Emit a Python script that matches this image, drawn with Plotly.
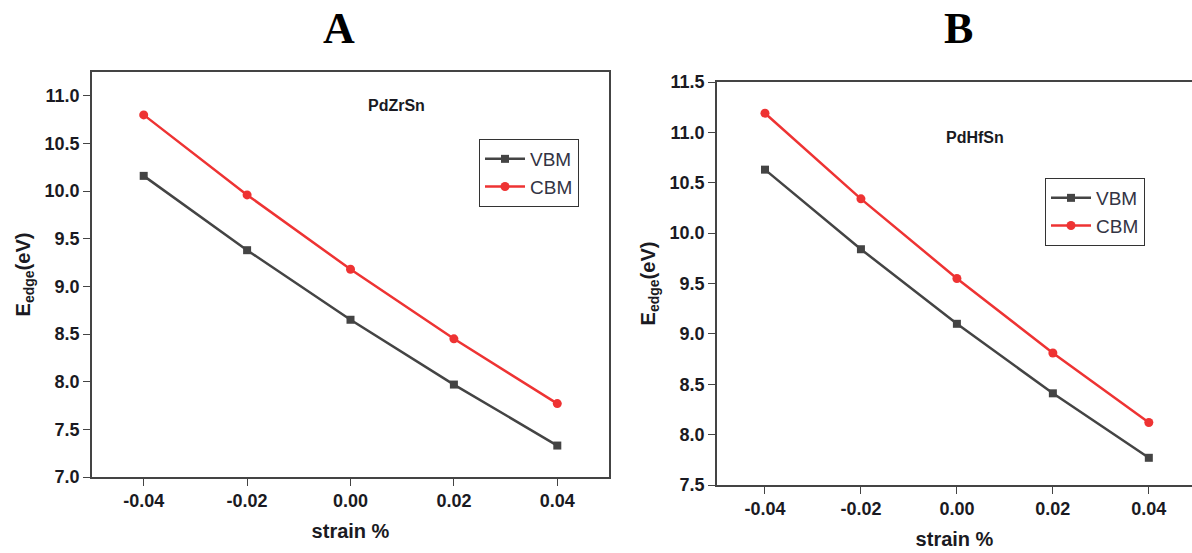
import plotly.graph_objects as go

strain = [-0.04, -0.02, 0.00, 0.02, 0.04]
vbm_a = [10.16, 9.38, 8.65, 7.97, 7.33]
cbm_a = [10.80, 9.96, 9.18, 8.45, 7.77]
vbm_b = [10.63, 9.84, 9.10, 8.41, 7.77]
cbm_b = [11.19, 10.34, 9.55, 8.81, 8.12]
x_ticks = [-0.04, -0.02, 0.00, 0.02, 0.04]
x_tick_text = ["-0.04", "-0.02", "0.00", "0.02", "0.04"]
ya_ticks = [7.0, 7.5, 8.0, 8.5, 9.0, 9.5, 10.0, 10.5, 11.0]
yb_ticks = [7.5, 8.0, 8.5, 9.0, 9.5, 10.0, 10.5, 11.0, 11.5]

W, H = 1192, 553
GRAY = "#444444"
RED = "#EE3333"
TXT = "#1a1a22"

fig = go.Figure()

def add_pair(vbm, cbm, xa, ya, leg):
    fig.add_trace(go.Scatter(x=strain, y=vbm, mode="lines+markers", name="VBM",
                             line=dict(color=GRAY, width=2.5),
                             marker=dict(symbol="square", size=8, color=GRAY),
                             xaxis=xa, yaxis=ya, legend=leg))
    fig.add_trace(go.Scatter(x=strain, y=cbm, mode="lines+markers", name="CBM",
                             line=dict(color=RED, width=2.5),
                             marker=dict(symbol="circle", size=9, color=RED),
                             xaxis=xa, yaxis=ya, legend=leg))

add_pair(vbm_a, cbm_a, "x", "y", "legend")
add_pair(vbm_b, cbm_b, "x2", "y2", "legend2")

tickfont = dict(family="Liberation Sans, Arial", size=18, color=TXT)
titlefont = dict(family="Liberation Sans, Arial", size=20, color=TXT)

def xaxis(domain, rng, anchor):
    return dict(domain=domain, range=rng, anchor=anchor, tickvals=x_ticks,
                ticktext=["<b>%s</b>" % t for t in x_tick_text],
                ticks="outside", ticklen=7, tickcolor=GRAY, showline=True, linecolor=GRAY,
                linewidth=1.5, mirror=True, showgrid=False, zeroline=False,
                tickfont=tickfont, title=dict(text="<b>strain %</b>", font=titlefont, standoff=14))

def yaxis(domain, rng, anchor, ticks):
    return dict(domain=domain, range=rng, anchor=anchor, tickvals=ticks,
                ticktext=["<b>%.1f</b>" % t for t in ticks],
                ticks="outside", ticklen=7, tickcolor=GRAY, showline=True, linecolor=GRAY,
                linewidth=1.5, mirror=True, showgrid=False, zeroline=False,
                tickfont=tickfont,
                title=dict(text="<b>E<sub>edge</sub>(eV)</b>", font=titlefont, standoff=9))

fig.update_layout(
    width=W, height=H,
    margin=dict(l=0, r=0, t=0, b=0, autoexpand=False),
    paper_bgcolor="white", plot_bgcolor="white",
    xaxis=xaxis([92 / W, 609 / W], [-0.05, 0.05], "y"),
    yaxis=yaxis([1 - 477 / H, 1 - 72 / H], [7.0, 11.25], "x", ya_ticks),
    xaxis2=xaxis([717 / W, 1.0], [-0.05, 0.049], "y2"),
    yaxis2=yaxis([1 - 485 / H, 1 - 82 / H], [7.5, 11.5], "x2", yb_ticks),
    legend=dict(x=479 / W, y=1 - 139 / H, xanchor="left", yanchor="top",
                bordercolor="#333333", borderwidth=1, bgcolor="white",
                font=dict(family="Liberation Sans, Arial", size=19, color="#333344"),
                tracegroupgap=0, itemwidth=40),
    legend2=dict(x=1045 / W, y=1 - 178 / H, xanchor="left", yanchor="top",
                 bordercolor="#333333", borderwidth=1, bgcolor="white",
                 font=dict(family="Liberation Sans, Arial", size=19, color="#333344"),
                 tracegroupgap=0, itemwidth=40),
    showlegend=True,
)

annos = [
    dict(text="<b>A</b>", x=339 / W, y=1 - 28 / H, font=dict(family="Liberation Serif, Times New Roman", size=44, color="black")),
    dict(text="<b>B</b>", x=958 / W, y=1 - 28 / H, font=dict(family="Liberation Serif, Times New Roman", size=44, color="black")),
    dict(text="<b>PdZrSn</b>", x=396 / W, y=1 - 106 / H, font=dict(family="Liberation Sans, Arial", size=16, color=TXT)),
    dict(text="<b>PdHfSn</b>", x=975 / W, y=1 - 137 / H, font=dict(family="Liberation Sans, Arial", size=16, color=TXT)),
]
for a in annos:
    fig.add_annotation(xref="paper", yref="paper", showarrow=False, xanchor="center", yanchor="middle", **a)

fig.write_html("out.html", config={"displayModeBar": False},
               post_script="document.body.style.margin='0';document.body.style.overflow='hidden';")
